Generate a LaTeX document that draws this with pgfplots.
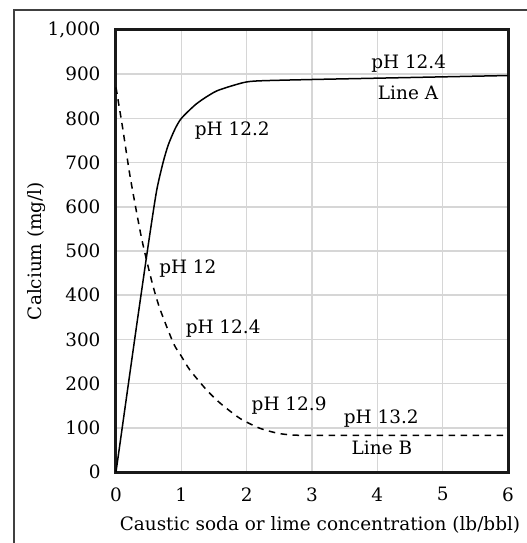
\documentclass[border=0pt]{standalone}
\usepackage{fontspec}
\setmainfont{DejaVu Serif}
\usepackage{pgfplots}
\pgfplotsset{compat=1.18}
\begin{document}
\begin{tikzpicture}[font=\fontsize{18.5}{22}\selectfont]
\path[use as bounding box, clip] (-116bp,-71bp) rectangle (411bp,472bp);
\draw[line width=1.3bp, black!75] (-102bp,-100bp) -- (-102bp,462bp) -- (450bp,462bp);
\begin{axis}[
  at={(0,0)}, anchor=south west,
  scale only axis, width=392bp, height=442bp,
  xmin=0, xmax=6, ymin=0, ymax=1000,
  xtick={0,1,2,3,4,5,6}, ytick={0,100,...,1000},
  /pgf/number format/assume math mode=true,
  /pgf/number format/1000 sep={,},
  grid=major,
  major grid style={draw=black!16, line width=1.6bp},
  axis line style={line width=3bp, black!90},
  major tick length=0pt,
  xticklabel style={yshift=-12bp},
  yticklabel style={xshift=-12bp},
  xlabel={Caustic soda or lime concentration (lb/bbl)},
  ylabel={Calcium (mg/l)},
  xlabel style={yshift=-8bp, xshift=8bp},
  ylabel style={yshift=-5bp},
  clip=false,
]
\addplot[black, line width=1.5bp, smooth, tension=0.4] coordinates {
(0,0) (0.3,315) (0.5,520) (0.62,635) (0.72,700) (0.8,740) (0.9,775) (1.0,800)
(1.24,834) (1.54,862) (1.95,881) (2.2,885) (3,888) (4,891) (5,894) (6,897)};
\addplot[black, line width=1.5bp, dash pattern=on 6.5bp off 5.5bp, smooth, tension=0.4] coordinates {
(0,870) (0.1,780) (0.22,665) (0.39,530) (0.55,430) (0.67,370) (0.88,291) (1.0,262)
(1.13,231) (1.39,185) (1.6,155) (1.9,121) (2.2,99) (2.5,87) (2.8,83) (3.5,83) (4.5,83) (6,83)};
\node at (axis cs:4.48,923) {pH 12.4};
\node at (axis cs:4.47,858) {Line A};
\node at (axis cs:1.78,772) {pH 12.2};
\node at (axis cs:1.10,460) {pH 12};
\node at (axis cs:1.64,325) {pH 12.4};
\node at (axis cs:2.65,151) {pH 12.9};
\node at (axis cs:4.06,120) {pH 13.2};
\node at (axis cs:4.07,55) {Line B};
\end{axis}
\end{tikzpicture}
\end{document}
